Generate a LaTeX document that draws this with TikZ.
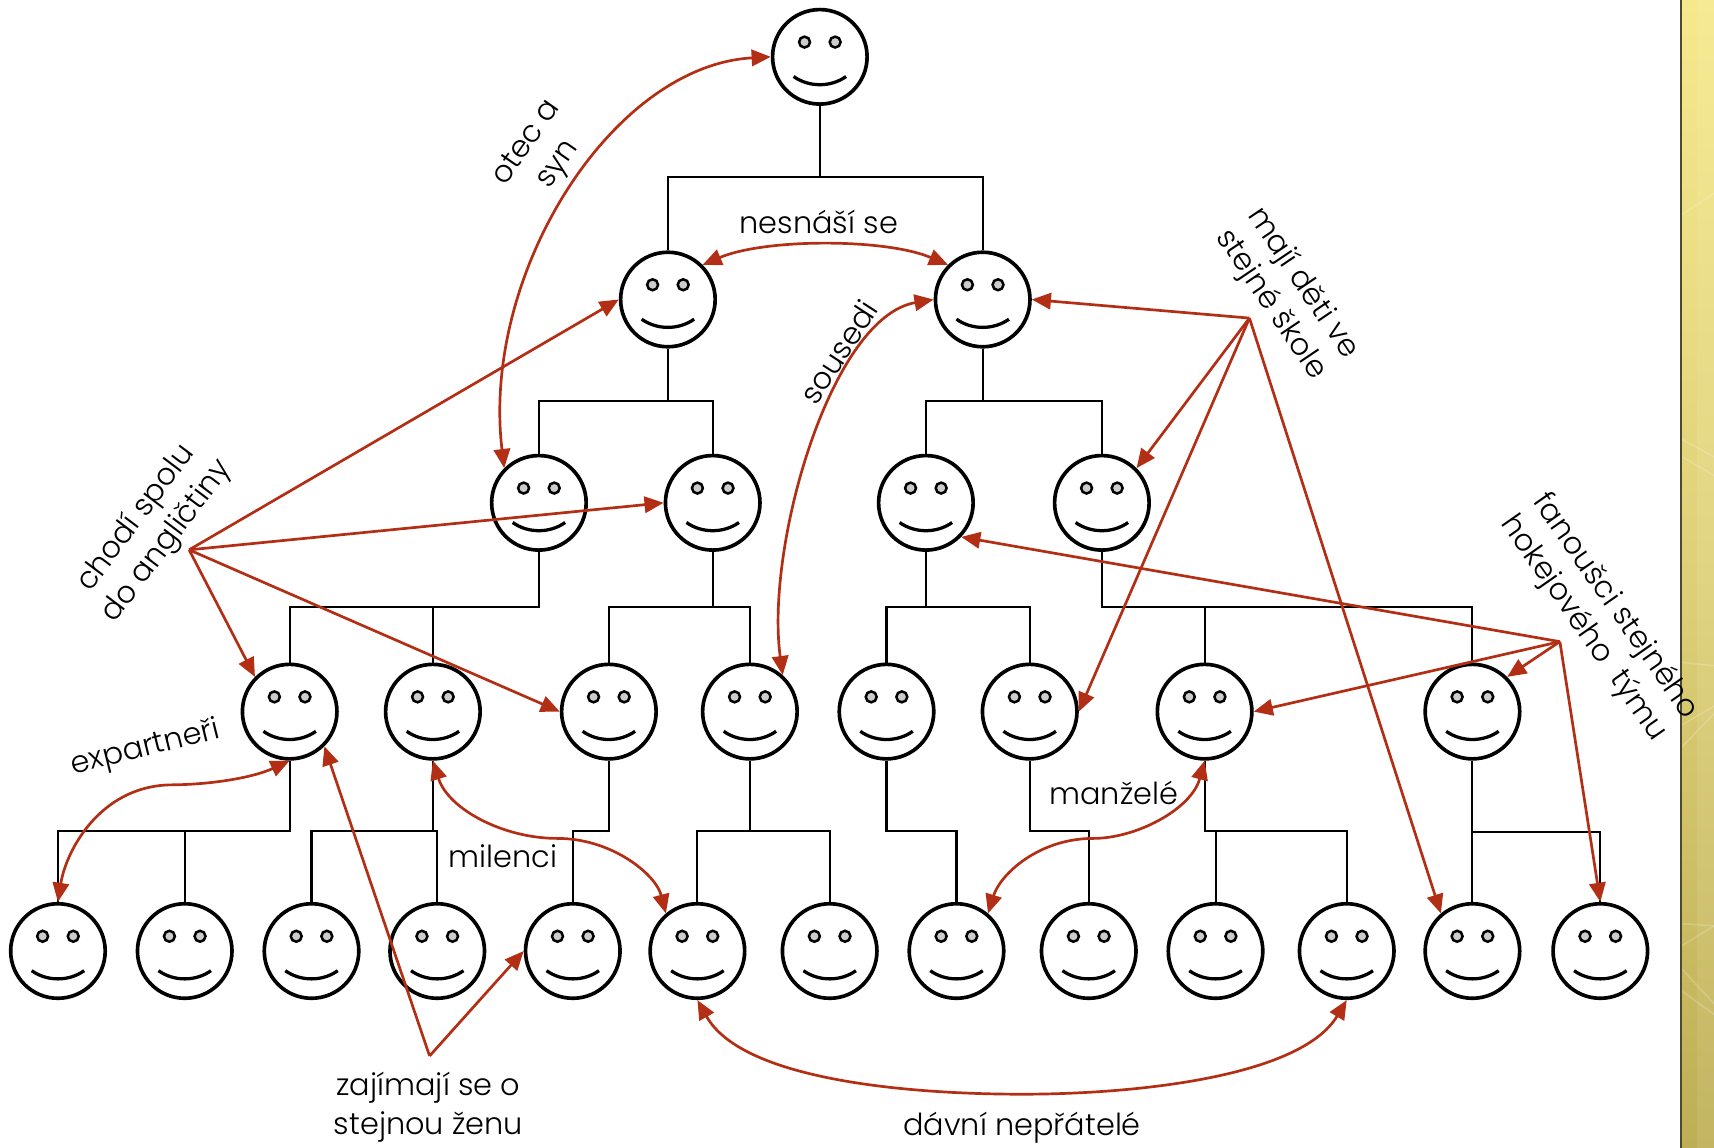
\documentclass[tikz,border=0pt]{standalone}
\usepackage{fontspec}
\setmainfont{Poppins Light}
\usetikzlibrary{arrows.meta}
\definecolor{rust}{RGB}{178,46,20}
\definecolor{bandtop}{RGB}{246,233,140}
\definecolor{bandmid}{RGB}{222,208,120}
\definecolor{bandlow}{RGB}{190,175,85}
\tikzstyle{face}=[circle,draw,line width=1.9pt,minimum size=1.73cm,inner sep=0pt,
  path picture={
    \draw[shift={(path picture bounding box.center)},line width=1.3pt,fill=black!20] (-14,-13.5) circle (5) (14,-13.5) circle (5);
    \draw[shift={(path picture bounding box.center)},line width=1.7pt] (-24,18) .. controls (-10,28) and (10,28) .. (24,18);
  }]
\tikzstyle{kin}=[draw,line width=1.1pt]
\tikzstyle{tie}=[color=rust,line width=1.4pt,>={Triangle[length=3.5mm,width=3mm]}]
\tikzstyle{tag}=[font=\fontsize{15.8}{20}\selectfont,align=center,inner sep=0pt]

\begin{document}
\begin{tikzpicture}[x=0.02cm,y=-0.02cm]
  \useasboundingbox (0,0) rectangle (1568,1050);
  \shade[top color=bandtop,bottom color=bandlow,middle color=bandmid] (1537,0) rectangle (1568,1050);
  \fill[white,opacity=.08] (1552,0) rectangle (1568,1050);
  \foreach \a/\b in {196/177,402/418,418/435,606/609,683/653,663/646,845/847,865/847,887/918,907/928}
    \draw[white,opacity=.2,line width=.8pt] (1539,\a) -- (1568,\b);
  \fill[black!65!bandmid] (1537,0) rectangle (1539,1050);

  \node[face] (f1) at (750,52) {};
  \node[face] (f2) at (611,274) {};
  \node[face] (f3) at (899,274) {};
  \node[face] (f4) at (493,460) {};
  \node[face] (f5) at (652,460) {};
  \node[face] (f6) at (847,460) {};
  \node[face] (f7) at (1008,460) {};
  \foreach \n/\x in {8/265,9/396,10/557,11/686,12/811,13/942,14/1102,15/1347}
    \node[face] (f\n) at (\x,651) {};
  \foreach \n/\x in {16/53,17/169,18/285,19/400,20/524,21/638,22/759,23/875,24/996,25/1112,26/1232,27/1347,28/1464}
    \node[face] (f\n) at (\x,870) {};

  % family lines
  \foreach \p/\c/\y in {f1/f2/162,f1/f3/162,f2/f4/367,f2/f5/367,f3/f6/367,f3/f7/367,
      f4/f8/555,f4/f9/555,f5/f10/555,f5/f11/555,f6/f12/555,f6/f13/555,f7/f14/555,f7/f15/555,
      f8/f16/760,f8/f17/760,f9/f18/760,f9/f19/760,f10/f20/760,f11/f21/760,f11/f22/760,
      f12/f23/760,f13/f24/760,f14/f25/760,f14/f26/760,f15/f27/761,f15/f28/761}
    \draw[kin] (\p.south) |- (\c.north |- 0,\y) -- (\c.north);

  \coordinate (english) at (173,503);
  \coordinate (school) at (1143,291);
  \coordinate (hockey) at (1427,587);
  \coordinate (woman) at (393,966);

  \draw[tie,<->] (f1.west) .. controls (560,60) and (440,250) .. (f4.135);
  \draw[tie,<->] (f2.45) .. controls (700,218) and (810,218) .. (f3.135);
  \draw[tie,<->] (f3.west) .. controls (760,290) and (700,500) .. (f11.48);
  \draw[tie,<->] (f8.south) .. controls (230,712) and (190,718) .. (155,718) .. controls (90,720) and (60,780) .. (f16.north);
  \draw[tie,<->] (f9.south) .. controls (410,740) and (460,767) .. (510,767) .. controls (560,767) and (600,800) .. (f21.130);
  \draw[tie,<->] (f14.south) .. controls (1090,740) and (1040,767) .. (1000,767) .. controls (950,767) and (915,800) .. (f23.50);
  \draw[tie,<->] (f21.south) .. controls (680,990) and (840,1001) .. (935,1001) .. controls (1040,1001) and (1190,985) .. (f26.south);

  \path[tie,->] (english) edge (f2.west)
    edge (f5.west)
    edge (f8.135)
    edge (f10.west);
  \path[tie,->] (school) edge (f3.east)
    edge (f7.45)
    edge (f13.east)
    edge (f27.130);
  \path[tie,->] (hockey) edge (f6.-44)
    edge (f15.45)
    edge (f14.east)
    edge (f28.north);
  \path[tie,->] (woman) edge (f8.-45)
    edge (f20.west);

  \node[tag,rotate=55] (father) at (497,141) {otec a\\syn};
  \node[tag] (hate) at (749,203) {nesnáší se};
  \node[tag,rotate=57] (neighbours) at (767,322) {sousedi};
  \node[tag,rotate=-56] (children) at (1177,269) {mají děti ve\\stejné škole};
  \node[tag,rotate=53] (lessons) at (139,485) {chodí spolu\\do angličtiny};
  \node[tag,rotate=-55] (fans) at (1463,565) {fanoušci stejného\\hokejového\ \ týmu};
  \node[tag,rotate=14] (expartners) at (133,685) {expartneři};
  \node[tag] (lovers) at (460,783) {milenci};
  \node[tag] (spouses) at (1019,725) {manželé};
  \node[tag] (samewoman) at (392,1013) {zajímají se o\\stejnou ženu};
  \node[tag] (enemies) at (935,1032) {dávní nepřátelé};
\end{tikzpicture}
\end{document}
